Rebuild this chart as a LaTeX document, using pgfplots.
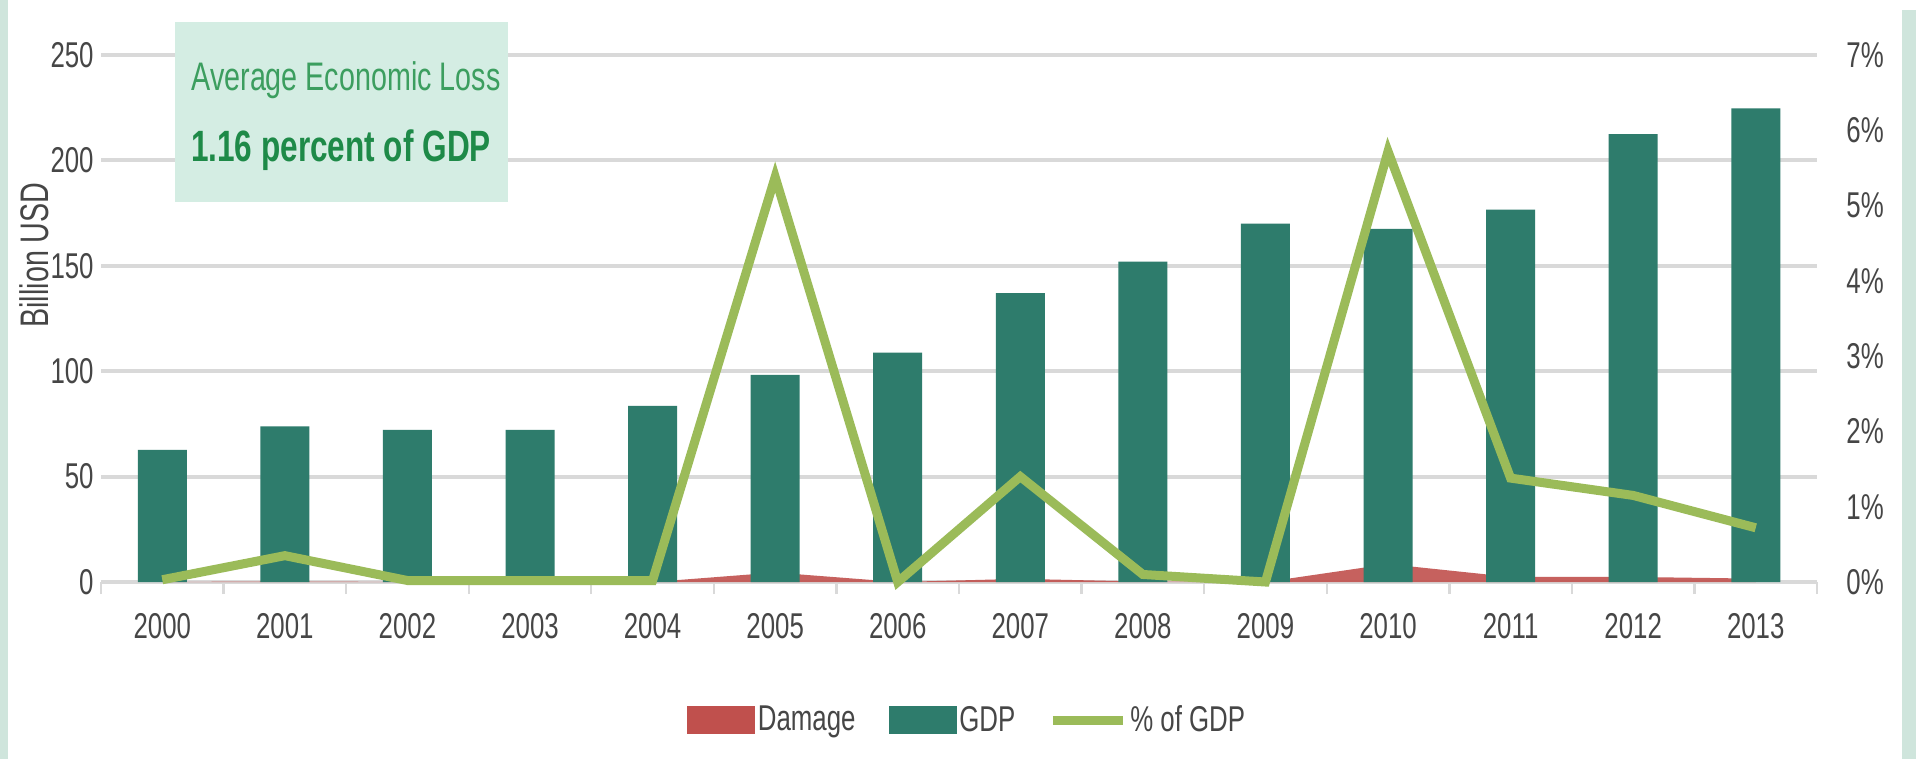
\documentclass[border=0pt]{standalone}
\usepackage{pgfplots}
\pgfplotsset{compat=1.18}
\usepackage{fontspec}
\setmainfont{Liberation Sans}[FakeStretch=0.72]
\definecolor{gdpc}{RGB}{46,124,108}
\definecolor{dmgc}{RGB}{192,80,77}
\definecolor{linec}{RGB}{155,187,89}
\definecolor{gridc}{RGB}{217,217,217}
\definecolor{framec}{RGB}{207,229,220}
\definecolor{boxc}{RGB}{212,237,227}
\definecolor{txtc}{RGB}{70,70,70}
\definecolor{t1c}{RGB}{60,158,95}
\definecolor{t2c}{RGB}{30,138,72}
\begin{document}
\begin{tikzpicture}[x=1bp,y=1bp]
\path[use as bounding box] (0,0) rectangle (958,379.5);
\fill[white] (0,0) rectangle (958,379.5);
\fill[framec] (0,0) rectangle (4,379.5);
\fill[framec] (951,0) rectangle (958,374.5);
\begin{axis}[
  at={(50.5bp,88.5bp)}, anchor=south west,
  scale only axis, width=858bp, height=263.5bp,
  xmin=-0.5, xmax=13.5, ymin=0, ymax=250,
  axis x line*=bottom, axis y line*=left,
  x axis line style={draw=gridc, line width=2bp},
  y axis line style={draw=none},
  xtick={0,...,13},
  xticklabels={2000,2001,2002,2003,2004,2005,2006,2007,2008,2009,2010,2011,2012,2013},
  minor xtick={-0.5,0.5,...,13.5},
  major tick length=0pt, minor tick length=6bp, tick align=outside,
  minor x tick style={draw=gridc, line width=1.2bp},
  xticklabel style={anchor=north, inner sep=0pt, yshift=-15.5bp, font=\fontsize{18}{20}\selectfont, text=txtc},
  ytick={0,50,100,150,200,250},
  yticklabels={0,50,100,150,200,250},
  yticklabel style={anchor=east, inner sep=0pt, xshift=-3.5bp, font=\fontsize{18}{20}\selectfont, text=txtc},
  ytick style={draw=none},
  ymajorgrids, grid style={draw=gridc, line width=2bp},
]
\addplot[fill=dmgc, fill opacity=0.9, draw=none] coordinates {
(0,0) (1,0.3) (2,0) (3,0) (4,0) (5,4.5) (6,0) (7,1.5) (8,0.2) (9,0) (10,8.5) (11,2.4) (12,2.4) (13,1.6)
} \closedcycle;
\addplot[ybar, bar width=24.5bp, fill=gdpc, draw=none] coordinates {
(0,62.7) (1,73.8) (2,72.2) (3,72.2) (4,83.5) (5,98.3) (6,108.8) (7,137) (8,152) (9,170) (10,167.5) (11,176.7) (12,212.5) (13,224.7)
};
\end{axis}
\begin{axis}[
  at={(50.5bp,88.5bp)}, anchor=south west,
  scale only axis, width=858bp, height=263.5bp,
  xmin=-0.5, xmax=13.5, ymin=0, ymax=7,
  axis x line=none, axis y line*=right,
  y axis line style={draw=none},
  ytick={0,...,7},
  yticklabels={0\%,1\%,2\%,3\%,4\%,5\%,6\%,7\%},
  yticklabel style={anchor=west, inner sep=0pt, xshift=14.5bp, font=\fontsize{18}{20}\selectfont, text=txtc},
  ytick style={draw=none}, major tick length=0pt,
  clip=false,
  legend columns=3,
  legend style={at={(0.505,-0.262)}, anchor=center, draw=none, fill=none,
    font=\fontsize{18}{20}\selectfont, text=txtc,
    nodes={inner sep=1.5bp},
    /tikz/every even column/.append style={column sep=15bp}},
]
\addlegendimage{legend image code/.code={\fill[dmgc] (0bp,-6.75bp) rectangle (33.5bp,6.75bp);}}
\addlegendentry{Damage}
\addlegendimage{legend image code/.code={\fill[gdpc] (0bp,-6.75bp) rectangle (33.5bp,6.75bp);}}
\addlegendentry{GDP}
\addplot[draw=linec, line width=4.5bp,
  legend image code/.code={\draw[linec, line width=4.5bp] (0bp,0bp) -- (35bp,0bp);}] coordinates {
(0,0.03) (1,0.35) (2,0.02) (3,0.02) (4,0.02) (5,5.38) (6,0) (7,1.40) (8,0.1) (9,0) (10,5.72) (11,1.38) (12,1.15) (13,0.72)
};
\addlegendentry{\% of GDP}
\end{axis}
\fill[boxc] (87.5,278.5) rectangle (254,368.5);
\node[text=t1c, font=\fontsize{20}{22}\selectfont] at (173,339.5) {Average Economic Loss};
\node[text=t2c, font=\fontsize{22}{24}\selectfont\bfseries] at (170.5,304.5) {1.16 percent of GDP};
\node[rotate=90, text=txtc, font=\fontsize{20}{22}\selectfont] at (17,252) {Billion USD};
\end{tikzpicture}
\end{document}
